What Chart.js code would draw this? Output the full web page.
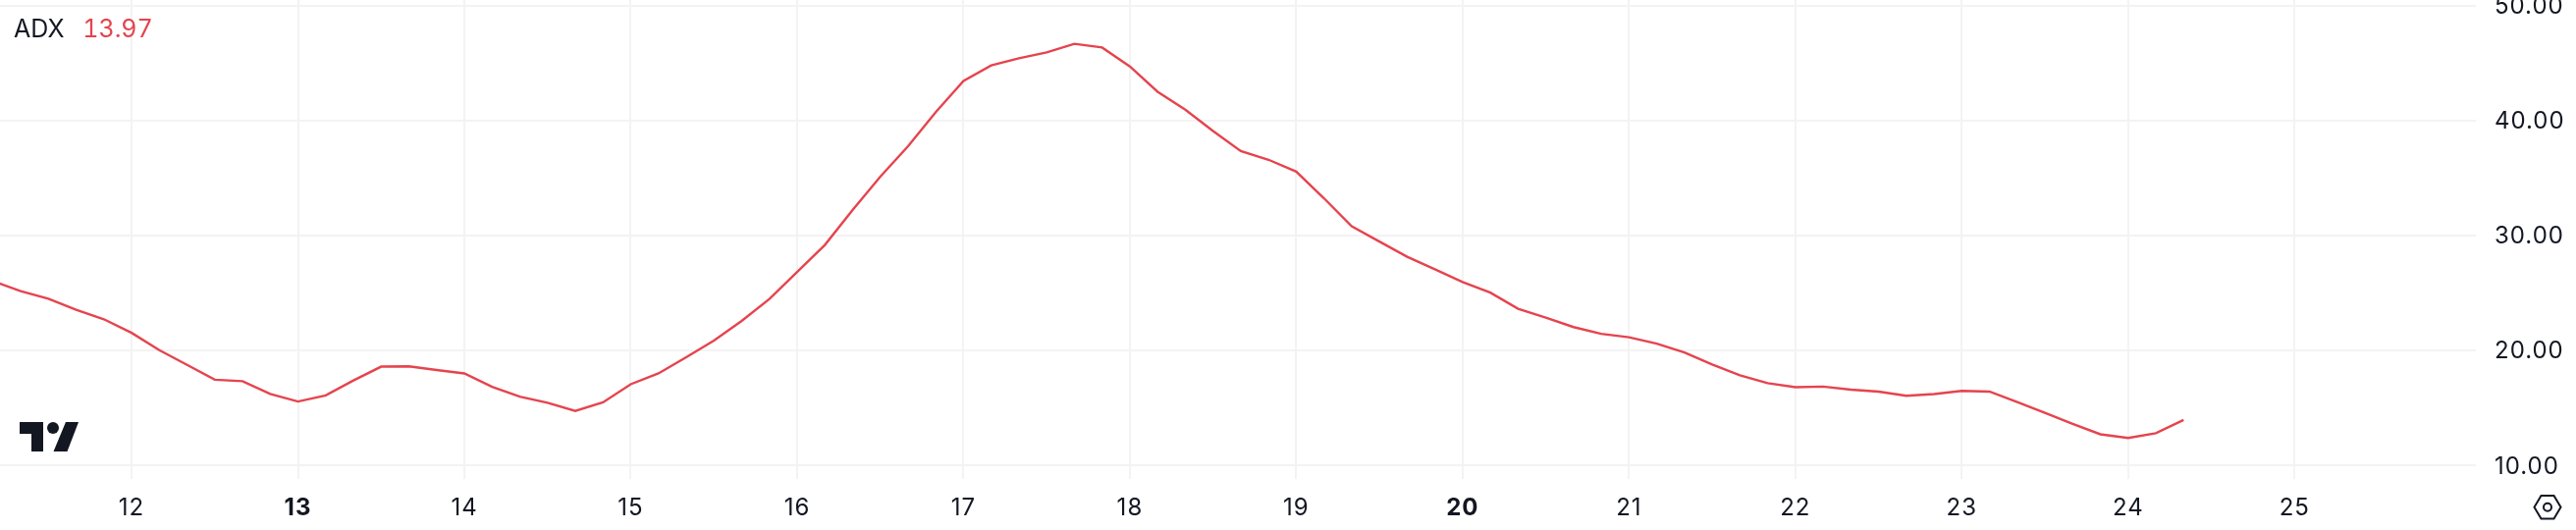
<!DOCTYPE html>
<html>
<head>
<meta charset="utf-8">
<title>ADX</title>
<script src="https://cdn.jsdelivr.net/npm/chart.js@4"></script>
<style>
  html, body { margin: 0; padding: 0; background: #ffffff; overflow: hidden; }
  #wrap { position: relative; width: 2624px; height: 540px; }
  canvas { display: block; }
  #legend {
    position: absolute; left: 14px; top: 13px;
    font: 25px Inter, sans-serif; line-height: 32px; color: #131722; white-space: nowrap;
    font-feature-settings: "tnum";
  }
  #legend .val { color: #e5444e; margin-left: 12px; }
  #logo { position: absolute; left: 0; top: 0; pointer-events: none; }
</style>
</head>
<body>
<div id="wrap">
  <canvas id="chart" width="2624" height="540"></canvas>
  <div id="legend"><span>ADX</span> <span class="val">13.97</span></div>
  <svg id="logo" width="2624" height="540">
    <path fill="#131722" d="M20 430H44V460H32V442H20Z"/>
    <circle fill="#131722" cx="54" cy="436" r="6"/>
    <path fill="#131722" d="M67 430H80L68.5 460H54.5Z"/>
    <path fill="none" stroke="#131722" stroke-width="2" d="M2581.5 516.7L2588.5 505H2601.5L2608.5 516.7L2601.5 528.5H2588.5Z"/>
    <circle fill="none" stroke="#131722" stroke-width="2" cx="2595" cy="516.7" r="4"/>
  </svg>
</div>
<script>
// ADX on 4h bars. First bar is day 11 04:00
const firstBarDay = 11 + 1 / 6;
const barsPerDay = 6;
const adxValues = [
  26.05, 25.17, 24.52, 23.55, 22.73,
  21.55, 20.05, 18.76, 17.47, 17.35, 16.23,
  15.58, 16.11, 17.41, 18.61, 18.64, 18.32,
  18.02, 16.85, 16.00, 15.47, 14.76, 15.50,
  17.08, 18.02, 19.43, 20.87, 22.58, 24.49,
  26.84, 29.19, 32.22, 35.13, 37.77, 40.74,
  43.45, 44.80, 45.42, 45.94, 46.68, 46.36,
  44.71, 42.51, 40.95, 39.10, 37.36, 36.60,
  35.57, 33.25, 30.81, 29.49, 28.16, 27.08,
  25.96, 25.05, 23.64, 22.87, 22.05, 21.46,
  21.17, 20.61, 19.85, 18.79, 17.85, 17.17,
  16.82, 16.88, 16.61, 16.44, 16.08, 16.23,
  16.50, 16.44, 15.53, 14.59, 13.64, 12.73,
  12.41, 12.82, 13.97
];
const dayTicks = [12, 13, 14, 15, 16, 17, 18, 19, 20, 21, 22, 23, 24, 25];
const boldDays = [13, 20];
const valueTicks = [10, 20, 30, 40, 50];

const textColor = '#131722';
const gridColor = '#f3f3f4';
const lineColor = '#e5444e';

const points = adxValues.map((v, i) => ({ x: firstBarDay + i / barsPerDay, y: v }));

// tick digits in the picture are spaced wider than plain Inter
const tickSpacing = {
  id: 'tickSpacing',
  beforeDraw: (chart) => { chart.ctx.letterSpacing = '1px'; },
};

new Chart(document.getElementById('chart').getContext('2d'), {
  type: 'line',
  data: {
    datasets: [{
      label: 'ADX',
      data: points,
      borderColor: lineColor,
      borderWidth: 2.4,
      pointRadius: 0,
      tension: 0,
    }],
  },
  options: {
    responsive: false,
    animation: false,
    layout: { padding: 0 },
    plugins: {
      legend: { display: false },
      tooltip: { enabled: false },
    },
    scales: {
      x: {
        type: 'linear',
        min: 11.209,
        max: 26.09,
        afterBuildTicks: (scale) => { scale.ticks = dayTicks.map((d) => ({ value: d })); },
        afterFit: (scale) => { scale.height = 52.3; scale.paddingLeft = 0; scale.paddingRight = 0; },
        border: { display: false },
        grid: { color: gridColor, lineWidth: 2, drawTicks: false },
        ticks: {
          padding: 16,
          maxRotation: 0,
          autoSkip: false,
          color: textColor,
          font: (ctx) => ({
            family: 'Inter, sans-serif',
            size: 24,
            weight: ctx.tick && boldDays.includes(ctx.tick.value) ? 'bold' : 'normal',
          }),
          callback: (v) => String(v),
        },
      },
      y: {
        position: 'right',
        min: 8.87,
        max: 50.49,
        afterBuildTicks: (scale) => { scale.ticks = valueTicks.map((v) => ({ value: v })); },
        afterFit: (scale) => { scale.width = 102; scale.paddingTop = 0; scale.paddingBottom = 0; },
        border: { display: false },
        grid: { color: gridColor, lineWidth: 2, drawTicks: false },
        ticks: {
          padding: 19,
          labelOffset: 1,
          autoSkip: false,
          color: textColor,
          font: { family: 'Inter, sans-serif', size: 24 },
          callback: (v) => v.toFixed(2),
        },
      },
    },
  },
  plugins: [tickSpacing],
});
</script>
</body>
</html>
